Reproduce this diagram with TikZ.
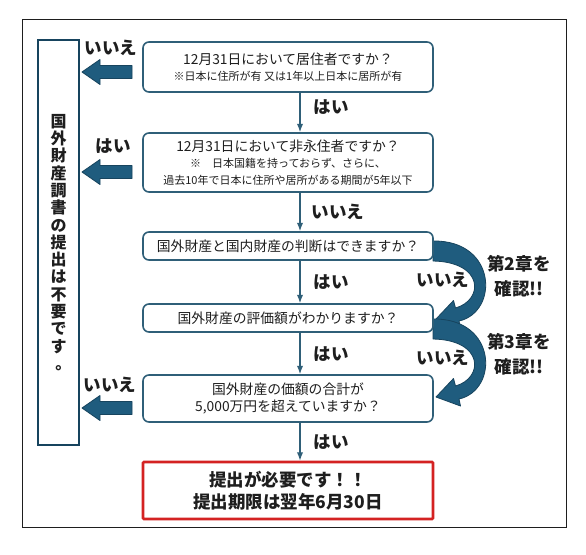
\documentclass[tikz,border=0pt]{standalone}
\usepackage{fontspec}
\setmainfont{Noto Sans CJK JP}
\usetikzlibrary{arrows.meta}
\definecolor{ink}{HTML}{1E1E1E}
\definecolor{edge}{HTML}{2F5F78}
\definecolor{navy}{HTML}{1F5C7E}
\definecolor{navyd}{HTML}{17445E}
\definecolor{alert}{HTML}{D42222}
\newcommand{\notesize}{\fontsize{11}{13}\selectfont}

\begin{document}
\begin{tikzpicture}[x=1pt,y=-1pt,text=ink,>=Latex,
  qbox/.style={draw=edge,line width=1.6pt,rounded corners=6pt,fill=white,
    minimum width=290pt,align=center,inner sep=2pt,
    font=\fontsize{13.8}{16.5}\selectfont},
  lbl/.style={font=\bfseries\fontsize{17.5}{25}\selectfont},
  flow/.style={->,edge,line width=1.2pt},
  blk/.style={fill=navy,draw=navyd,line width=.8pt,line join=round}]
  \useasboundingbox (0,0) rectangle (586,554);
  \fill[white] (0,0) rectangle (586,554);
  \draw[ink,line width=.8pt] (22,19) rectangle (566,527);

  \node[draw=navyd,line width=1.8pt,minimum width=41pt,minimum height=405pt,
    inner sep=0pt,align=center,font=\bfseries\fontsize{16}{17.3}\selectfont]
    (skip) at (58.5,242.5)
    {国\\外\\財\\産\\調\\書\\の\\提\\出\\は\\不\\要\\で\\す\\\hspace{.6em}。};

  \foreach \dy/\ch in {0/2,78/3} {
    \begin{scope}[shift={(0,\dy)}]
      \filldraw[blk] (433,241) .. controls (497,240) and (499,312) .. (459,321)
        -- (460.5,328) -- (436,319) -- (453.5,300.5) -- (455.5,308)
        .. controls (484,300) and (484,262) .. (433,261) -- cycle;
      \node[lbl] (no\ch) at (443,280) {いいえ};
      \node[lbl,align=center] (see\ch) at (519,276) {第\ch 章を\\確認!!};
    \end{scope}
  }

  \node[qbox,minimum height=50pt] (q1) at (288,67)
    {12月31日において居住者ですか？\\
     {\notesize ※日本に住所が有 又は1年以上日本に居所が有}};
  \node[qbox,minimum height=59pt] (q2) at (288,162.5)
    {12月31日において非永住者ですか？\\
     {\notesize ※　日本国籍を持っておらず、さらに、}\\
     {\notesize 過去10年で日本に住所や居所がある期間が5年以下}};
  \node[qbox,minimum height=28pt] (q3) at (288,246)
    {国外財産と国内財産の判断はできますか？};
  \node[qbox,minimum height=28pt] (q4) at (288,318)
    {国外財産の評価額がわかりますか？};
  \node[qbox,minimum height=47pt] (q5) at (288,398.5)
    {国外財産の価額の合計が\\5,000万円を超えていますか？};
  \node[draw=alert,line width=2.6pt,rounded corners=1pt,minimum width=290pt,
    minimum height=57pt,align=center,font=\bfseries\fontsize{17.5}{22}\selectfont]
    (q6) at (288,490.5) {提出が必要です！！\\提出期限は翌年6月30日};

  \coordinate (ax) at (300,0);
  \foreach \a/\b in {q1/q2,q2/q3,q3/q4,q4/q5,q5/q6}
    \draw[flow] (\a.south -| ax) -- (\b.north -| ax);
  \node[lbl] (y1) at (331,107) {はい};
  \node[lbl] (n2) at (338,212) {いいえ};
  \node[lbl] (y3) at (331,282) {はい};
  \node[lbl] (y4) at (331,354) {はい};
  \node[lbl] (y5) at (331,442) {はい};

  \foreach \y in {72,172,408}
    \filldraw[blk] (82,\y) -- (100,{\y-12.5}) -- (100,{\y-6.5}) -- (132,{\y-6.5})
      -- (132,{\y+6.5}) -- (100,{\y+6.5}) -- (100,{\y+12.5}) -- cycle;
  \node[lbl] (outn1) at (111,48) {いいえ};
  \node[lbl] (outy2) at (113,146) {はい};
  \node[lbl] (outn5) at (110,385) {いいえ};
\end{tikzpicture}
\end{document}
